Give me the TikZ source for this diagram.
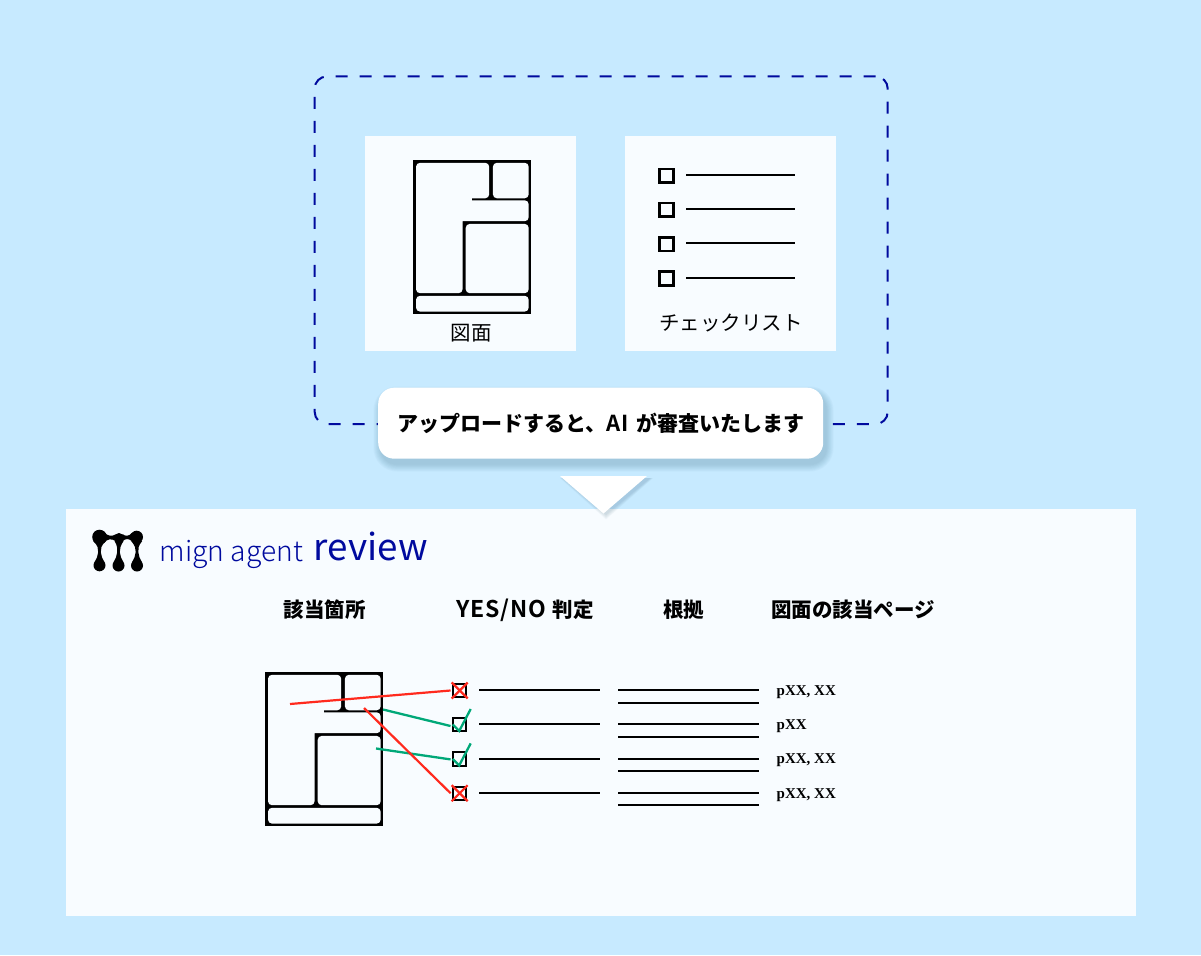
\documentclass[tikz,border=0pt]{standalone}
\usepackage{fontspec}
\setmainfont{Noto Sans CJK JP}
\newfontfamily\jpfont{Noto Sans CJK JP}
\newfontfamily\jpbold{Noto Sans CJK JP Black}
\newfontfamily\jplight{Noto Sans CJK JP Light}
\newfontfamily\pgfont{Liberation Serif Bold}
\newfontfamily\latinb[LetterSpace=4]{Noto Sans CJK JP Bold}
\usetikzlibrary{calc}
\definecolor{bgblue}{HTML}{C7EAFF}
\definecolor{panel}{HTML}{F8FCFF}
\definecolor{navy}{HTML}{000A9E}
\definecolor{okgreen}{HTML}{00A878}
\definecolor{ngred}{HTML}{FF2A1E}
\definecolor{shadowc}{HTML}{1B4E6E}
\tikzset{
  x=1pt,y=-1pt,
  sheet/.style={fill=panel,draw=none},
  rule/.style={line width=2pt,black},
  boxmark/.style={draw=black,line width=2.6pt,minimum size=13.8pt,inner sep=0pt,fill=none},
  head/.style={font=\jpbold\fontsize{20.5}{20.5}\selectfont,inner sep=0pt,anchor=center},
  pg/.style={font=\pgfont\fontsize{15}{15}\selectfont,inner sep=0pt,anchor=west},
  redline/.style={ngred,line width=2.2pt},
  greenline/.style={okgreen,line width=2.3pt},
  room/.style={fill=panel,draw=none,rounded corners=4pt},
  plan/.pic={
    \fill[black] (0,0) rectangle (117.6,153.6);
    \path[room] (2.6,2.6) -- (75.8,2.6) -- (75.8,38.1) -- (45,38.1) -- (45,40.1) -- (115.3,40.1) -- (115.3,61) [sharp corners] -- (49.2,61) [rounded corners=4pt] -- (49.2,133) -- (2.6,133) -- cycle;
    \fill[panel] (42,36) rectangle (58.8,42);
    \path[room] (79.5,2.6) rectangle (115.3,38.1);
    \path[room] (52.3,63.7) rectangle (115.3,133);
    \path[room] (2.6,135.6) rectangle (115.3,151.4);
  },
}
\begin{document}
\begin{tikzpicture}
\useasboundingbox (0,0) rectangle (1201,955);
\fill[bgblue] (0,0) rectangle (1201,955);
% dashed frame
\node[draw=navy,line width=2pt,dash pattern=on 12pt off 12pt,rounded corners=12pt,minimum width=573pt,minimum height=347.5pt,inner sep=0pt,anchor=north west] (frame) at (313.7,75.5) {};
% top sheets
\node[sheet,minimum width=211pt,minimum height=215pt,inner sep=0pt,anchor=north west] (drawing) at (365,136) {};
\node[sheet,minimum width=211pt,minimum height=215pt,inner sep=0pt,anchor=north west] (checklist) at (625,136) {};
\pic at (413.4,160.2) {plan};
\node[font=\jpfont\fontsize{20.5}{20.5}\selectfont,inner sep=0pt] (drawinglabel) at (471,333.5) {図面};
\foreach \n/\y/\z in {a/175.7/175.1,b/209.7/209.1,c/244.2/243.4,d/278.3/277.9}{
  \node[boxmark] (m\n) at (666.5,\y) {};
  \coordinate (e\n) at (795,\z);
  \coordinate (s\n) at (686,\z);
  \draw[rule] (s\n) -- (e\n);
}
\node[font=\jpfont\fontsize{20.5}{20.5}\selectfont,inner sep=0pt] (checklabel) at (731,323) {チェックリスト};
% callout
\foreach \k in {1,...,11}{
  \fill[shadowc,opacity=.018,rounded corners={16pt+.7pt*\k}] ({378-.7*\k+3},{388-.7*\k+6}) rectangle ({823+.7*\k+3},{458+.7*\k+6});
}
\node[fill=white,rounded corners=16pt,minimum width=445pt,minimum height=71pt,inner sep=0pt,anchor=north west] (callout) at (378,387.5) {};
\node[font=\jpbold\fontsize{21}{21}\selectfont,inner sep=0pt] (calltext) at (600.8,423) {アップロードすると、{\latinb\fontsize{22}{22}\selectfont AI}\hspace{7pt}が審査いたします};
% main sheet
\node[sheet,minimum width=1070pt,minimum height=407pt,inner sep=0pt,anchor=north west] (result) at (66,509) {};
% pointer
\foreach \k in {1,...,8}{
  \fill[shadowc,opacity=.025] ({560-.4*\k+3},{476+2}) -- ({647+.4*\k+3},{476+2}) -- (606,{513+.7*\k+1}) -- cycle;
}
\fill[white] (560,476) -- (647,476) -- (603.5,513.5) -- cycle;
% logo
\begin{scope}[black]
  \fill (99.5,537) circle (7.3pt);
  \fill (119,538) circle (5pt);
  \fill (136.7,537) circle (6.3pt);
  \fill (99.5,565.3) circle (6pt);
  \fill (118.5,565.5) circle (6pt);
  \fill (137,565.5) circle (6pt);
  \fill (104,531.5) .. controls (107,536.5) and (112,536.5) .. (115.5,534.5) -- (115.5,541) .. controls (112,538.5) and (107,538.5) .. (104,543) -- cycle;
  \fill (122.5,534) .. controls (125,536.5) and (129,536.5) .. (132,532.8) -- (132,541.2) .. controls (129,538.3) and (125,538.3) .. (122.5,541.5) -- cycle;
  \foreach \c/\b/\r in {99.5/99.5/6.3,119/118.5/4.5,136.7/137/5.5}{
    \fill ({\c-\r},541) .. controls ({\c-1.5},546) and ({\b-1.3},548) .. ({\b-1.3},552)
      .. controls ({\b-1.3},556) and ({\b-3},558) .. ({\b-5},562.5) -- ({\b+5},562.5)
      .. controls ({\b+3},558) and ({\b+1.3},556) .. ({\b+1.3},552)
      .. controls ({\b+1.3},548) and ({\c+1.5},546) .. ({\c+\r},541) -- cycle;
  }
\end{scope}
\node[font=\jplight\fontsize{28.2}{28.2}\selectfont,text=navy,inner sep=0pt,anchor=base west] (brand) at (159.5,561) {mign agent};
\node[font=\jpfont\fontsize{36.8}{36.8}\selectfont,text=navy,inner sep=0pt,anchor=base west] (brand2) at (313.5,560) {review};
% headers
\node[head] (h1) at (324.5,610) {該当箇所};
\node[head] (h2) at (525,610) {{\latinb\fontsize{23}{23}\selectfont YES/NO}\hspace{6pt}判定};
\node[head] (h3) at (683.5,610) {根拠};
\node[head] (h4) at (853,610) {図面の該当ページ};
% lower plan
\pic at (265.4,672.2) {plan};
% rows
\foreach \n/\y/\p in {a/690.3/{pXX, XX},b/724.3/{pXX},c/758.7/{pXX, XX},d/793/{pXX, XX}}{
  \node[draw=black,line width=2pt,minimum size=13.3pt,inner sep=0pt] (c\n) at (459.7,\y+.2) {};
  \coordinate (ls\n) at (479,\y);
  \coordinate (le\n) at (600,\y);
  \draw[rule] (ls\n) -- (le\n);
  \coordinate (rs\n) at (618,\y);
  \coordinate (re\n) at (759,\y);
  \draw[rule] (rs\n) -- (re\n);
  \coordinate (rt\n) at (618,\y+12.3);
  \coordinate (ru\n) at (759,\y+12.3);
  \draw[rule] (rt\n) -- (ru\n);
  \node[pg] (p\n) at (776.5,\y+1.8) {\p};
}
% marks
\foreach \n in {a,d}{
  \draw[redline] ($(c\n.center)+(-8,-8)$) -- ($(c\n.center)+(8,8)$);
  \draw[redline] ($(c\n.center)+(8,-8)$) -- ($(c\n.center)+(-8,8)$);
}
\foreach \n in {b,c}{
  \draw[greenline] ($(c\n.center)+(-7,0)$) -- ($(c\n.center)+(-.5,6.5)$) -- ($(c\n.center)+(11,-15.5)$);
}
% connectors
\coordinate (fa) at (290,704);
\coordinate (fb) at (383,709.5);
\coordinate (fc) at (376,748.5);
\coordinate (fd) at (364,708);
\draw[redline] (fa) -- ($(ca.west)+(-1.5,0)$);
\draw[greenline] (fb) -- ($(cb.west)+(-1.5,1.5)$);
\draw[greenline] (fc) -- ($(cc.west)+(-1.5,.5)$);
\draw[redline] (fd) -- ($(cd.west)+(-1.5,0)$);
\end{tikzpicture}
\end{document}
